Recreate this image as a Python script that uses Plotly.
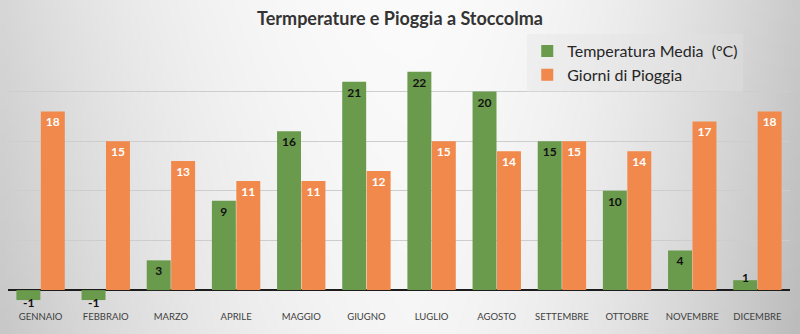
import base64, struct, zlib
import plotly.graph_objects as go

months = ["GENNAIO", "FEBBRAIO", "MARZO", "APRILE", "MAGGIO", "GIUGNO",
          "LUGLIO", "AGOSTO", "SETTEMBRE", "OTTOBRE", "NOVEMBRE", "DICEMBRE"]
temperatura = [-1, -1, 3, 9, 16, 21, 22, 20, 15, 10, 4, 1]
pioggia = [18, 15, 13, 11, 11, 12, 15, 14, 15, 14, 17, 18]

GREEN = "#6a9a4c"
ORANGE = "#f0894b"
FONT = "Lato"


def gradient_png(w=200, h=84):
    rows = b""
    for j in range(h):
        row = b"\x00"
        dy = j / (h - 1)
        for i in range(w):
            x = i / (w - 1) * 800
            if x < 410:
                d = (410 - x) / 410
                g = 251 - 36 * d * d
            else:
                d = (x - 410) / 390
                g = 251 - 48 * d * d
            g -= 10 * dy * (0.5 + d)
            g = int(max(0, min(255, g)))
            row += bytes((g, g, g))
        rows += row

    def chunk(t, data):
        c = struct.pack(">I", len(data)) + t + data
        return c + struct.pack(">I", zlib.crc32(t + data) & 0xffffffff)

    png = b"\x89PNG\r\n\x1a\n"
    png += chunk(b"IHDR", struct.pack(">IIBBBBB", w, h, 8, 2, 0, 0, 0))
    png += chunk(b"IDAT", zlib.compress(rows, 9))
    png += chunk(b"IEND", b"")
    return "data:image/png;base64," + base64.b64encode(png).decode()


# small values get their labels as annotations hugging the bar end
small = [abs(v) < 2 for v in temperatura]
temp_text = ["" if s else str(v) for v, s in zip(temperatura, small)]

fig = go.Figure()
fig.add_trace(go.Bar(
    x=months, y=temperatura, name="Temperatura Media  (°C)",
    marker=dict(color=GREEN, line=dict(width=0)),
    text=temp_text, texttemplate="%{text}", textposition="inside",
    insidetextanchor="end",
    textangle=0, constraintext="none",
    insidetextfont=dict(family=FONT, size=12, color="#111111", weight="bold"),
))
fig.add_trace(go.Bar(
    x=months, y=pioggia, name="Giorni di Pioggia",
    marker=dict(color=ORANGE, line=dict(width=0)),
    text=pioggia, texttemplate="%{text}", textposition="inside",
    insidetextanchor="end",
    textangle=0, constraintext="none",
    insidetextfont=dict(family=FONT, size=12, color="#ffffff", weight="bold"),
))

annotations = []
for m, v, s in zip(months, temperatura, small):
    if s:
        annotations.append(dict(
            x=m, y=v, xref="x", yref="y", text=f"<b>{v}</b>", showarrow=False,
            xshift=-12, yanchor="middle", yshift=(-2 if v < 0 else 3),
            font=dict(family=FONT, size=12, color="#111111"),
        ))

fig.update_layout(
    width=800, height=334,
    margin=dict(l=8, r=10, t=42, b=28),
    paper_bgcolor="#f4f4f4",
    plot_bgcolor="rgba(0,0,0,0)",
    barmode="group", bargap=0.25, bargroupgap=0.02,
    title=dict(text="<b>Termperature e Pioggia a Stoccolma</b>",
               x=0.5, xanchor="center", y=0.945, yanchor="middle",
               font=dict(family=FONT, size=18, color="#333333")),
    legend=dict(x=0.664, xanchor="left", y=1.03, yanchor="top",
                bgcolor="rgba(225,225,225,0.35)",
                font=dict(family=FONT, size=16, color="#262626"),
                itemwidth=30, tracegroupgap=2),
    showlegend=True,
    annotations=annotations,
    images=[dict(source=gradient_png(), xref="paper", yref="paper",
                 x=-8 / 782, y=1 + 42 / 264, sizex=800 / 782, sizey=334 / 264,
                 xanchor="left", yanchor="top", sizing="stretch", layer="below")],
)
fig.update_xaxes(
    showgrid=False, showline=False, ticks="", ticklabelstandoff=3,
    tickfont=dict(family=FONT, size=9.5, color="#404040"),
)
fig.update_yaxes(
    range=[-1.6, 25], dtick=5, showticklabels=False,
    gridcolor="#cdcdcd", gridwidth=1,
    zeroline=True, zerolinecolor="#1c1c1c", zerolinewidth=2,
)

fig.write_html("out.html")
